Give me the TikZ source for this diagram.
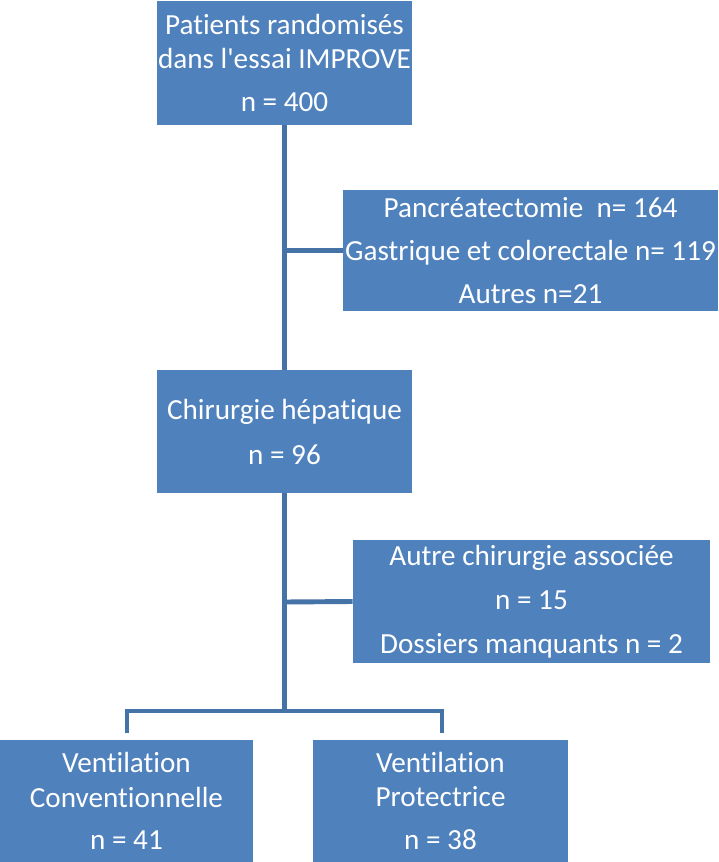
\documentclass[tikz,border=0pt]{standalone}
\usepackage{fontspec}
\setmainfont{Carlito}[Ligatures={NoCommon}]
\usepackage{xcolor}
\usepackage{tikz}
\definecolor{boxblue}{HTML}{4F81BD}
\definecolor{lineblue}{HTML}{4572A7}
\tikzset{
  flowbox/.style={fill=boxblue, text=white, align=center, inner sep=0pt,
    font=\fontsize{16.6}{19.8}\selectfont},
  flowline/.style={draw=lineblue, line width=2.8pt}
}

\begin{document}
\begin{tikzpicture}[x=0.02cm, y=-0.02cm]
      \useasboundingbox (0,0) rectangle (718,862);

      % Boxes down the middle
      \node[flowbox, minimum width=5.1cm, minimum height=2.48cm] (randomises) at (284.5,63)
        {Patients randomisés\\dans l\textquotesingle essai IMPROVE\\[4.6pt]n = 400};
      \node[flowbox, minimum width=5.1cm, minimum height=2.46cm] (hepatique) at (284.5,431.5)
        {Chirurgie hépatique\\[5.8pt]n = 96};

      % Exclusion boxes on the right
      \node[flowbox, minimum width=7.5cm, minimum height=2.42cm] (exclus1) at (530.5,250.5)
        {Pancréatectomie~ n= 164\\[4.6pt]Gastrique et colorectale n= 119\\[4.6pt]Autres n=21};
      \node[flowbox, minimum width=7.14cm, minimum height=2.46cm] (exclus2) at (531.5,601.5)
        {Autre chirurgie associée\\[5.2pt]n = 15\\[5.2pt]Dossiers manquants n = 2};

      % The two arms
      \node[flowbox, minimum width=5.06cm, minimum height=2.44cm] (conv) at (126.5,801)
        {Ventilation\\Conventionnelle\\[4.6pt]n = 41};
      \node[flowbox, minimum width=5.1cm, minimum height=2.44cm] (prot) at (440.5,801)
        {Ventilation\\Protectrice\\[4.6pt]n = 38};

      % Connectors
      \coordinate (branch1) at (randomises.south |- exclus1.west);
      \coordinate (branch2) at (hepatique.south |- 0,602);
      \coordinate (split) at (hepatique.south |- 0,711);
      \coordinate (dropconv) at (127,733);
      \coordinate (dropprot) at (442,733);
      \draw[flowline] (randomises.south) -- (hepatique.north);
      \draw[flowline] (branch1) -- (exclus1.west);
      \draw[flowline] (hepatique.south) -- (split);
      \draw[flowline] (branch2) -- (exclus2.west);
      \draw[flowline] (dropconv) |- (split) -| (dropprot);
\end{tikzpicture}
\end{document}
